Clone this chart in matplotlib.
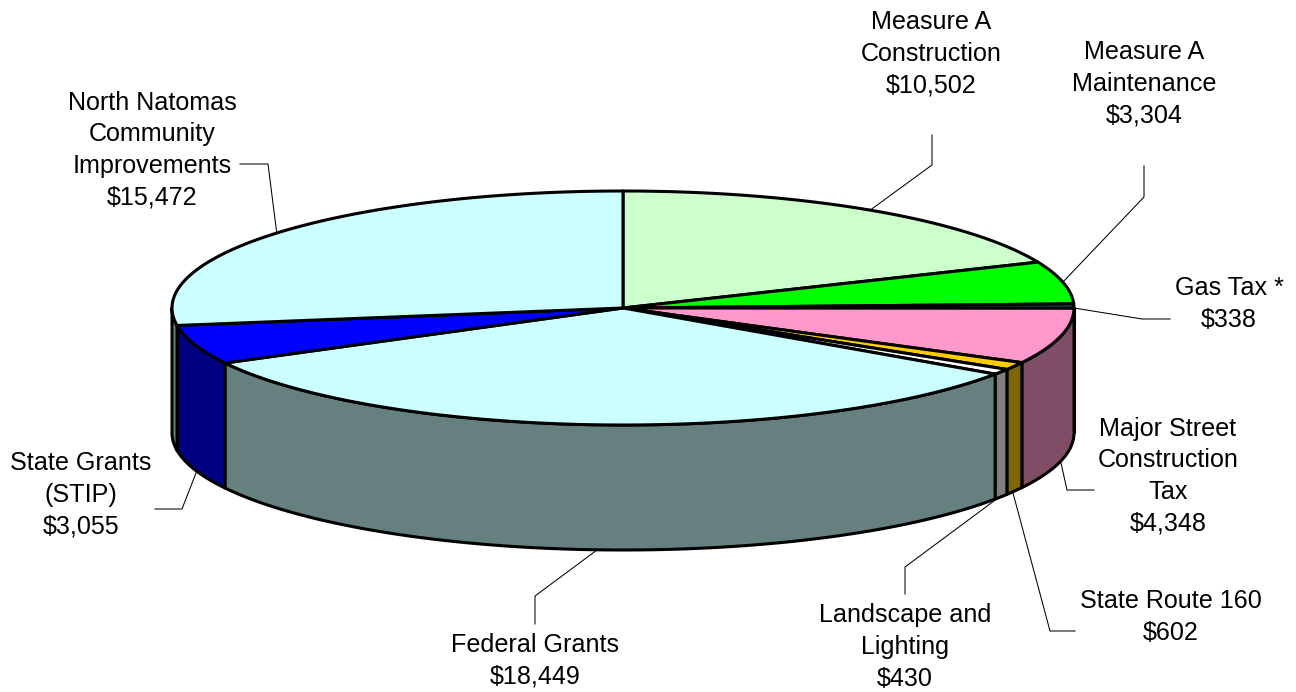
#!/usr/bin/env python3
"""3D-look pie of funding sources, clockwise from 12 o'clock."""
import numpy as np
import matplotlib

matplotlib.use("Agg")
import matplotlib.pyplot as plt
from matplotlib.patches import Polygon

plt.rcParams["font.family"] = ["Liberation Sans", "DejaVu Sans"]

# data
names = ["Measure A\nConstruction", "Measure A\nMaintenance", "Gas Tax *",
         "Major Street\nConstruction\nTax", "State Route 160", "Landscape and\nLighting",
         "Federal Grants", "State Grants\n(STIP)", "North Natomas\nCommunity\nImprovements"]
values = [10502, 3304, 338, 4348, 602, 430, 18449, 3055, 15472]
top_colors = ["#CCFFCC", "#00FF00", "#006666", "#FF99CC", "#FFCC00", "#FFFFFF",
              "#CCFFFF", "#0000FF", "#CCFFFF"]
side_colors = ["#668066", "#008000", "#003333", "#804D66", "#806600", "#808080",
               "#668080", "#000080", "#668080"]

# layout, in image pixels
CX, CY, RX, RY, DEPTH = 623, 308, 451, 117, 125
label_xy = [(931, 54), (1144, 84), (1229, 304), (1168, 476), (1171, 617),
            (905, 647), (535, 661), (81, 495), (152, 150)]
leaders = [
    [(932, 135), (932, 165), (869, 211)],
    [(1144, 166), (1144, 197), (1062, 283)],
    [(1074, 308), (1142, 319), (1170, 319)],
    [(1061, 463), (1067, 490), (1094, 490)],
    [(1013, 493), (1050, 631), (1075, 631)],
    [(998, 498), (905, 567), (905, 594)],
    [(597, 550), (535, 596), (535, 624)],
    [(196, 473), (182, 509), (155, 509)],
    [(277, 235), (268, 164), (240, 164)],
]


def rim(t, dy=0):
    # t in degrees clockwise from top
    r = np.radians(t)
    return np.column_stack([CX + RX * np.sin(r), CY - RY * np.cos(r) + dy])


fig = plt.figure(figsize=(12.96, 6.92), dpi=100)
ax = fig.add_axes([0, 0, 1, 1])
ax.set_xlim(0, 1296)
ax.set_ylim(692, 0)
ax.axis("off")

edges = np.concatenate([[0], np.cumsum(values)]) / sum(values) * 360
LW = 2.2

# walls, only the front half shows
for i in range(len(values)):
    a, b = max(edges[i], 90), min(edges[i + 1], 270)
    if b <= a:
        continue
    t = np.linspace(a, b, 80)
    pts = np.vstack([rim(t), rim(t[::-1], DEPTH)])
    ax.add_patch(Polygon(pts, closed=True, fc=side_colors[i], ec="black", lw=LW, joinstyle="round", zorder=2))

# top face
for i in range(len(values)):
    t = np.linspace(edges[i], edges[i + 1], 120)
    pts = np.vstack([[(CX, CY)], rim(t)])
    ax.add_patch(Polygon(pts, closed=True, fc=top_colors[i], ec="black", lw=LW, joinstyle="round", zorder=3))

for pts in leaders:
    xs, ys = zip(*pts)
    ax.plot(xs, ys, color="black", lw=0.75, zorder=1)

for name, val, (x, y) in zip(names, values, label_xy):
    ax.text(x, y, f"{name}\n${val:,}", ha="center", va="center", fontsize=18.1,
            linespacing=1.4, color="black", zorder=4)

fig.savefig("out.png", dpi=100)
